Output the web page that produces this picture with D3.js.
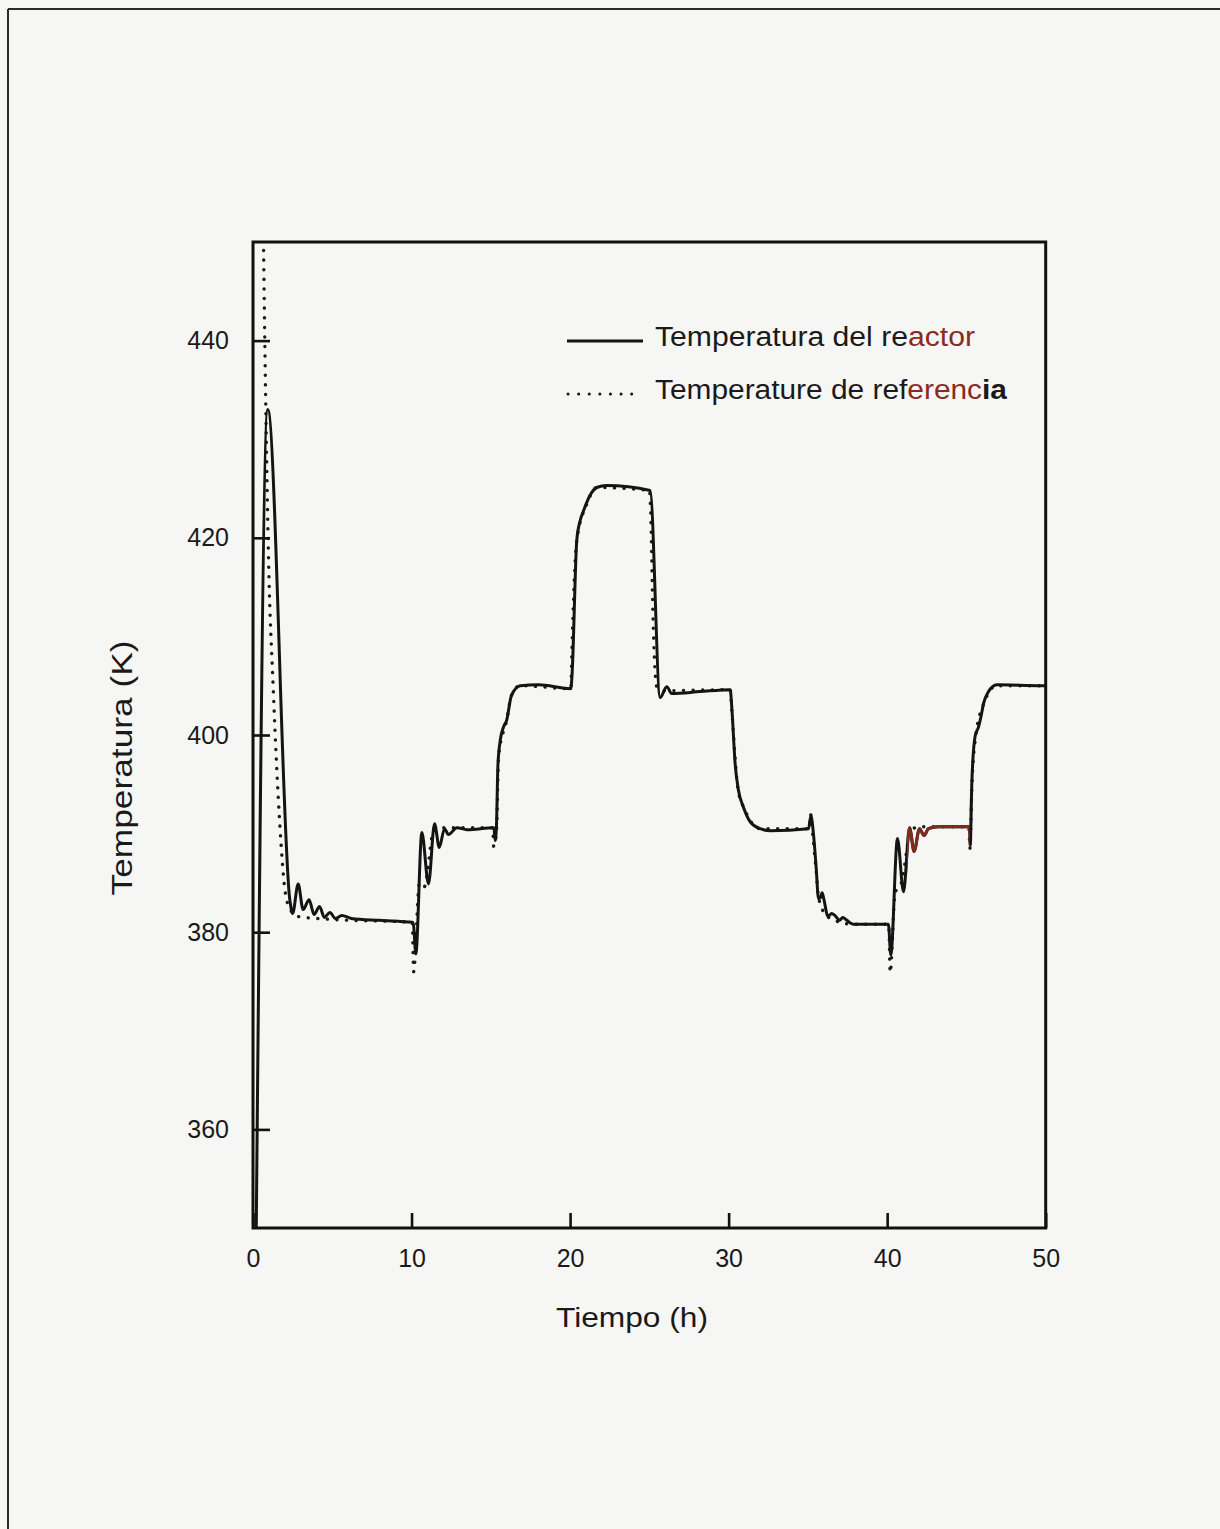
<!DOCTYPE html>
<html><head><meta charset="utf-8">
<script src="https://cdn.jsdelivr.net/npm/d3@7"></script>
<style>html,body{margin:0;padding:0;background:#f6f6f5;} svg{display:block;}</style>
</head><body>
<svg id="c" width="1220" height="1529"></svg>
<script>
// ---- data ----
const timeReactor = [0.15,0.93,2.33,2.5,2.85,3.16,3.54,3.85,4.2,4.5,4.85,5.2,5.6,6.2,8.0,10.05,
  10.12,10.27,10.65,11.07,11.45,11.75,12.08,12.33,12.86,13.5,15.2,15.27,15.35,15.45,15.6,15.8,16.0,16.3,16.85,18.0,20.05,
  20.12,20.42,20.63,20.84,21.37,21.68,22.31,25.05,25.68,26.1,26.41,28.2,30.1,
  30.2,30.41,30.62,30.93,31.36,31.99,32.62,35.04,35.19,35.35,35.52,35.67,35.79,35.9,36.0,36.27,36.5,36.7,37.0,37.2,37.46,37.87,40.08,
  40.23,40.65,41.03,41.41,41.7,42.04,42.33,42.6,43.2,45.2,45.24,45.34,45.55,45.76,45.91,46.08,46.39,46.92,49.75,50.0];
const tempReactor = [340,433,383.2,381.9,384.9,382.3,383.3,381.8,382.6,381.5,382.0,381.4,381.7,381.4,381.2,381.0,
  380.8,377.8,390.1,384.9,391.0,388.6,390.5,389.9,390.6,390.4,390.6,389.3,390.5,397.0,399.5,400.8,401.5,404.0,405.0,405.1,404.7,
  406.0,419.7,421.7,422.7,424.6,425.1,425.3,424.8,403.8,404.9,404.2,404.4,404.6,
  402.8,397.1,394.4,392.7,391.2,390.5,390.3,390.5,391.8,390.0,386.6,383.4,383.5,384.0,383.4,381.6,381.9,381.7,381.2,381.5,381.2,380.8,380.8,
  377.7,389.5,384.1,390.6,388.2,390.5,389.8,390.5,390.7,390.7,388.8,395.1,399.9,400.8,401.8,403.2,404.4,405.1,405.0,405.0];

const timeReference = [0.62,0.8,0.97,1.28,1.70,2.02,2.3,2.8,5.0,10.05,10.13,10.5,10.8,11.4,12.0,15.12,15.18,15.35,15.5,16.0,16.3,16.85,20.05,
  20.1,20.2,20.42,21.05,21.7,25.0,25.09,25.22,25.47,26.0,30.1,30.2,30.6,31.0,32.0,35.1,35.16,35.3,35.5,35.7,36.3,37.9,40.1,40.19,40.5,40.9,41.5,42.0,
  45.15,45.22,45.35,45.6,46.1,46.9,50.0];
const tempReference = [455,434,418.6,404.6,390.7,384.2,382.5,381.6,381.3,381.0,376.0,385.0,384.6,390.3,390.6,390.6,388.7,390.0,398.0,401.5,404.0,405.0,404.7,
  407.5,412.9,419.7,423.4,425.1,424.8,422.4,412.6,404.9,404.5,404.6,402.5,394.4,392.5,390.5,390.5,392.0,390.0,386.6,383.3,381.5,380.8,380.8,375.9,384.0,385.0,390.3,390.7,
  390.7,388.5,395.0,400.0,403.2,405.0,405.0];

const xTickValues = [0,10,20,30,40,50];
const yTickValues = [360,380,400,420,440];
const seriesNames = ["Temperatura del reactor","Temperature de referencia"];
const xTitle = "Tiempo (h)";
const yTitle = "Temperatura (K)";

// ---- drawing ----
const svg = d3.select("#c");
const FONT = "'Liberation Sans', Arial, sans-serif";
const x = d3.scaleLinear().domain([0,50]).range([253,1045.7]);
const y = d3.scaleLinear().domain([350,450]).range([1228,242]);

// outer scanned frame (left and top edges visible)
svg.append("line").attr("x1",8).attr("y1",9).attr("x2",1230).attr("y2",9).attr("stroke","#2a2a2a").attr("stroke-width",2);
svg.append("line").attr("x1",8).attr("y1",9).attr("x2",8).attr("y2",1540).attr("stroke","#2a2a2a").attr("stroke-width",2);

const defs = svg.append("defs");
defs.append("clipPath").attr("id","plotclip").append("rect")
  .attr("x",x(0)).attr("y",y(450)).attr("width",x(50)-x(0)).attr("height",y(350)-y(450));
defs.append("clipPath").attr("id","redclip").append("rect")
  .attr("x",x(41.25)).attr("y",y(450)).attr("width",x(45.2)-x(41.25)).attr("height",y(350)-y(450));

const reactorData = timeReactor.map((t,i)=>[t,tempReactor[i]]);
const refData = timeReference.map((t,i)=>[t,tempReference[i]]);
const line = d3.line().x(d=>x(d[0])).y(d=>y(d[1])).curve(d3.curveMonotoneX);

const plot = svg.append("g").attr("clip-path","url(#plotclip)");
plot.append("path").datum(refData).attr("d",line).attr("fill","none")
  .attr("stroke","#1a1a1a").attr("stroke-width",3.4).attr("stroke-linecap","round").attr("stroke-dasharray","0.1 9.5");
plot.append("path").datum(reactorData).attr("d",line).attr("fill","none")
  .attr("stroke","#141414").attr("stroke-width",3).attr("stroke-linejoin","round");
svg.append("g").attr("clip-path","url(#redclip)").append("path").datum(reactorData).attr("d",line)
  .attr("fill","none").attr("stroke","#7e2a1e").attr("stroke-width",3);

// axes
const yAxis = svg.append("g").attr("transform",`translate(${x(0)},0)`)
  .call(d3.axisLeft(y).tickValues(yTickValues).tickSize(-17).tickPadding(24).tickFormat(d3.format("d")));
const xAxis = svg.append("g").attr("transform",`translate(0,${y(350)})`)
  .call(d3.axisBottom(x).tickValues(xTickValues).tickSize(-15).tickPadding(21).tickFormat(d3.format("d")));
[xAxis,yAxis].forEach(a=>{
  a.select(".domain").remove();
  a.selectAll(".tick line").attr("stroke","#111").attr("stroke-width",2.6);
  a.selectAll(".tick text").attr("fill","#1a1a1a").style("font-family",FONT).style("font-size","25px");
});

// plot frame
svg.append("rect").attr("x",x(0)).attr("y",y(450)).attr("width",x(50)-x(0)).attr("height",y(350)-y(450))
  .attr("fill","none").attr("stroke","#111").attr("stroke-width",3);

// axis titles
svg.append("text").attr("x",632).attr("y",1327).attr("text-anchor","middle")
  .attr("textLength",152).attr("lengthAdjust","spacingAndGlyphs")
  .style("font-family",FONT).style("font-size","28px").attr("fill","#1a1a1a").text(xTitle);
svg.append("text").attr("transform","translate(132,768) rotate(-90)").attr("text-anchor","middle")
  .attr("textLength",255).attr("lengthAdjust","spacingAndGlyphs")
  .style("font-family",FONT).style("font-size","29px").attr("fill","#1a1a1a").text(yTitle);

// legend
const leg = svg.append("g");
leg.append("line").attr("x1",567).attr("x2",643).attr("y1",341).attr("y2",341).attr("stroke","#141414").attr("stroke-width",3);
leg.append("line").attr("x1",568).attr("x2",640).attr("y1",394).attr("y2",394).attr("stroke","#1a1a1a")
  .attr("stroke-width",3).attr("stroke-linecap","round").attr("stroke-dasharray","0.1 10.5");
const red = "#8a2a20";
const t1 = leg.append("text").attr("x",655).attr("y",346).attr("textLength",320).attr("lengthAdjust","spacingAndGlyphs")
  .style("font-family",FONT).style("font-size","27px").attr("fill","#1a1a1a");
t1.append("tspan").text(seriesNames[0].slice(0,18));
t1.append("tspan").attr("fill",red).text(seriesNames[0].slice(18));
const t2 = leg.append("text").attr("x",655).attr("y",399).attr("textLength",352).attr("lengthAdjust","spacingAndGlyphs")
  .style("font-family",FONT).style("font-size","27px").attr("fill","#1a1a1a");
t2.append("tspan").text(seriesNames[1].slice(0,18));
t2.append("tspan").attr("fill",red).text(seriesNames[1].slice(18,23));
t2.append("tspan").style("font-weight","bold").text(seriesNames[1].slice(23));
</script>
</body></html>
